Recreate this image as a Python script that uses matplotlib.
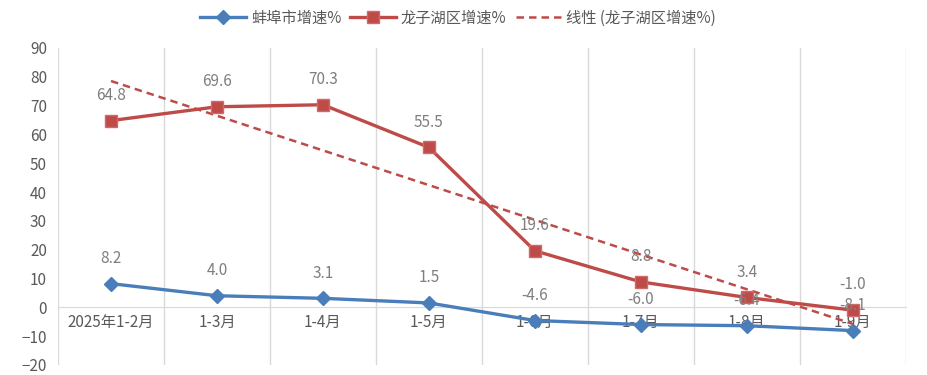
import matplotlib.pyplot as plt
import numpy as np

plt.rcParams['font.family'] = ['Noto Sans CJK SC', 'DejaVu Sans']

# 数据
months = ['2025年1-2月', '1-3月', '1-4月', '1-5月', '1-6月', '1-7月', '1-8月', '1-9月']
bengbu = [8.2, 4.0, 3.1, 1.5, -4.6, -6.0, -6.4, -8.1]
longzihu = [64.8, 69.6, 70.3, 55.5, 19.6, 8.8, 3.4, -1.0]

blue = '#4A7EBB'
red = '#BE4B48'
label_grey = '#7F7F7F'
tick_grey = '#595959'

fig = plt.figure(figsize=(9.28, 3.75), dpi=100)
ax = fig.add_axes([0.0625, 0.027, 0.9135, 0.845])

x = np.arange(len(months))

ax.plot(x, bengbu, color=blue, lw=2.4, marker='D', ms=7, mfc=blue, mec=blue,
        label='蚌埠市增速%', zorder=3)
ax.plot(x, longzihu, color=red, lw=2.4, marker='s', ms=9, mfc=red, mec='#D06A67',
        label='龙子湖区增速%', zorder=3)

# 线性趋势线
k, b = np.polyfit(x, longzihu, 1)
xt = np.array([x[0], x[-1]])
ax.plot(xt, k * xt + b, color=red, lw=1.8, ls=(0, (3, 2)),
        label='线性 (龙子湖区增速%)', zorder=2)

for xi, v in zip(x, bengbu):
    ax.annotate(f'{v:.1f}', (xi, v), xytext=(0, 12), textcoords='offset points',
                ha='center', va='bottom', fontsize=11, color=label_grey, zorder=4)
for xi, v in zip(x, longzihu):
    ax.annotate(f'{v:.1f}', (xi, v), xytext=(0, 12), textcoords='offset points',
                ha='center', va='bottom', fontsize=11, color=label_grey, zorder=4)

ax.set_xlim(-0.5, len(months) - 0.5)
ax.set_ylim(-20, 90)
ax.set_yticks(range(-20, 91, 10))
ax.set_xticks(x)
ax.set_xticklabels(months)

# 分类边界竖网格线
for bx in np.arange(-0.5, len(months), 1.0):
    ax.axvline(bx, color='#D9D9D9', lw=1, zorder=0)

for s in ['top', 'right', 'left']:
    ax.spines[s].set_visible(False)
ax.spines['bottom'].set_position(('data', 0))
ax.spines['bottom'].set_color('#D9D9D9')
ax.spines['bottom'].set_zorder(1)
ax.tick_params(axis='x', length=0, pad=5, labelsize=11, labelcolor=tick_grey)
ax.tick_params(axis='y', length=0, pad=8, labelsize=11, labelcolor=tick_grey)

ax.legend(loc='center', bbox_to_anchor=(0.472, 1.095), ncol=3, frameon=False,
          fontsize=11, handlelength=3, columnspacing=0.6, handletextpad=0.3,
          labelcolor=tick_grey)

fig.savefig('out.png', dpi=100)
